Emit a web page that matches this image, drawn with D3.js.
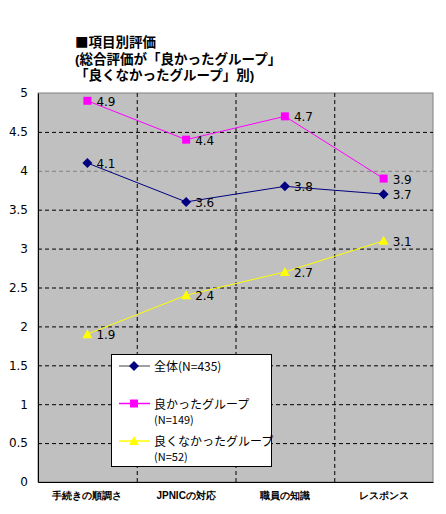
<!DOCTYPE html>
<html>
<head>
<meta charset="utf-8">
<script src="https://cdn.jsdelivr.net/npm/d3@7"></script>
<style>
  body { margin: 0; background: #fff; }
  svg { display: block; font-family: "Noto Sans CJK JP", "DejaVu Sans", sans-serif; }
</style>
</head>
<body>
<svg id="chart" width="446" height="514"></svg>
<script>
// chart data
const categories = ['手続きの順調さ', 'JPNICの対応', '職員の知識', 'レスポンス'];
const allValues = [4.1, 3.6, 3.8, 3.7];
const goodValues = [4.9, 4.4, 4.7, 3.9];
const badValues = [1.9, 2.4, 2.7, 3.1];
const yTicks = [0, 0.5, 1, 1.5, 2, 2.5, 3, 3.5, 4, 4.5, 5];
const titleLines = ['■項目別評価', '(総合評価が「良かったグループ」', '「良くなかったグループ」別)'];

const series = [
  {name: '全体(N=435)', sub: null, values: allValues, color: '#000080', legendLine: '#808080', marker: 'diamond'},
  {name: '良かったグループ', sub: '(N=149)', values: goodValues, color: '#ff00ff', legendLine: '#ff00ff', marker: 'square'},
  {name: '良くなかったグループ', sub: '(N=52)', values: badValues, color: '#ffff00', legendLine: '#ffff00', marker: 'triangle'}
];

const svg = d3.select('#chart');
const plot = {left: 38, right: 433, top: 93, bottom: 482};

const x = d3.scaleBand().domain(categories).range([plot.left, plot.right]);
const y = d3.scaleLinear().domain([0, 5]).range([plot.bottom, plot.top]);

// title - latin primary font keeps the line boxes from overlapping,
// the square bullet is split off so it gets the wide CJK glyph
const titles = svg.append('g')
  .selectAll('text')
  .data(titleLines)
  .enter()
  .append('text')
  .attr('x', 75)
  .attr('y', (d, i) => 47 + i * 16.5)
  .attr('font-size', 13.5)
  .attr('font-weight', 'bold')
  .attr('font-family', '"Liberation Sans", "Noto Sans CJK JP", sans-serif');
titles.each(function(d) {
  const t = d3.select(this);
  if (d.startsWith('■')) {
    t.append('tspan').attr('font-family', '"Noto Sans CJK JP", sans-serif').text('■');
    t.append('tspan').text(d.slice(1));
  } else {
    t.text(d);
  }
});

// plot background
svg.append('rect')
  .attr('x', plot.left)
  .attr('y', plot.top)
  .attr('width', plot.right - plot.left)
  .attr('height', plot.bottom - plot.top)
  .attr('fill', '#c0c0c0')
  .attr('stroke', '#808080');

// horizontal grid lines (the one at 4 is grey in the original)
svg.append('g')
  .selectAll('line')
  .data(yTicks.filter(d => d > 0 && d < 5))
  .enter()
  .append('line')
  .attr('x1', plot.left)
  .attr('x2', plot.right)
  .attr('y1', d => y(d) + 0.5)
  .attr('y2', d => y(d) + 0.5)
  .attr('stroke', d => (d === 4 ? '#808080' : '#000'))
  .attr('stroke-dasharray', '4,3');

// vertical grid lines between categories
svg.append('g')
  .selectAll('line')
  .data(categories.slice(1))
  .enter()
  .append('line')
  .attr('x1', d => x(d) + 0.5)
  .attr('x2', d => x(d) + 0.5)
  .attr('y1', plot.top)
  .attr('y2', plot.bottom)
  .attr('stroke', '#000')
  .attr('stroke-dasharray', '4,3');

// axes
const yAxis = svg.append('g')
  .attr('transform', `translate(${plot.left},0)`)
  .call(d3.axisLeft(y).tickValues(yTicks).tickSize(0).tickPadding(10).tickFormat(d3.format('')));
yAxis.select('.domain').attr('stroke', '#000');
yAxis.selectAll('text')
  .attr('font-size', 12)
  .attr('font-family', '"DejaVu Sans", sans-serif')
  .attr('fill', '#000');

const xAxis = svg.append('g')
  .attr('transform', `translate(0,${plot.bottom})`)
  .call(d3.axisBottom(x).tickSize(0).tickPadding(10));
xAxis.select('.domain').attr('stroke', '#000');
xAxis.selectAll('text')
  .attr('font-size', 10)
  .attr('font-weight', 'bold')
  .attr('fill', '#000');

// marker shapes
function drawMarker(g, type, color) {
  if (type === 'diamond') {
    g.append('path').attr('d', 'M0,-5L5,0L0,5L-5,0Z').attr('fill', color);
  } else if (type === 'square') {
    g.append('rect').attr('x', -4).attr('y', -4).attr('width', 8).attr('height', 8).attr('fill', color);
  } else {
    g.append('path').attr('d', 'M0,-5L5,4L-5,4Z').attr('fill', color);
  }
}

const line = d3.line()
  .x((d, i) => x(categories[i]) + x.bandwidth() / 2)
  .y(d => y(d));

series.forEach(s => {
  const g = svg.append('g');
  g.append('path')
    .attr('d', line(s.values))
    .attr('fill', 'none')
    .attr('stroke', s.color)
    .attr('stroke-width', 1);
  s.values.forEach((v, i) => {
    const px = x(categories[i]) + x.bandwidth() / 2;
    const mg = g.append('g').attr('transform', `translate(${px},${y(v)})`);
    drawMarker(mg, s.marker, s.color);
    g.append('text')
      .attr('x', px + 9)
      .attr('y', y(v) + 5)
      .attr('font-size', 12)
      .attr('font-family', '"DejaVu Sans", sans-serif')
      .text(d3.format('.1f')(v));
  });
});

// legend
const legend = svg.append('g');
legend.append('rect')
  .attr('x', 111.5)
  .attr('y', 354.5)
  .attr('width', 160)
  .attr('height', 112)
  .attr('fill', '#fff')
  .attr('stroke', '#000');

series.forEach((s, i) => {
  const ly = 366 + i * 37.5;
  const row = legend.append('g');
  row.append('line')
    .attr('x1', 119)
    .attr('x2', 150)
    .attr('y1', ly)
    .attr('y2', ly)
    .attr('stroke', s.legendLine)
    .attr('stroke-width', 1.5);
  drawMarker(row.append('g').attr('transform', `translate(134,${ly})`), s.marker, s.color);
  row.append('text')
    .attr('x', 154)
    .attr('y', ly + 5)
    .attr('font-size', 12)
    .text(s.name);
  if (s.sub) {
    row.append('text')
      .attr('x', 154)
      .attr('y', ly + 20)
      .attr('font-size', 11)
      .text(s.sub);
  }
});
</script>
</body>
</html>
